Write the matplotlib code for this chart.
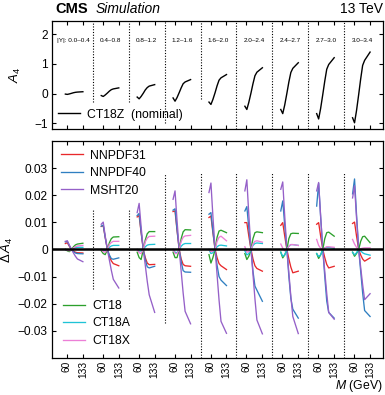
import numpy as np
import matplotlib
matplotlib.use("Agg")
import matplotlib.pyplot as plt
from matplotlib.lines import Line2D

plt.rcParams["font.family"] = ["Liberation Sans", "DejaVu Sans"]
plt.rcParams["mathtext.fontset"] = "custom"
plt.rcParams["mathtext.rm"] = "Liberation Sans"
plt.rcParams["mathtext.it"] = "Liberation Sans:italic"

# ── data ────────────────────────────────────────────────────────────────
Y_BINS = ["0.0–0.4", "0.4–0.8", "0.8–1.2", "1.2–1.6", "1.6–2.0",
          "2.0–2.4", "2.4–2.7", "2.7–3.0", "3.0–3.4"]
MASS = [53, 62, 71, 81, 90, 99, 108, 133]          # GeV
MASS_TICKS = [60, 133]

# A4 for CT18Z (nominal), one row per |y| bin
A4_CT18Z = [
    [-0.02, -0.03, -0.015, 0.006, 0.026, 0.040, 0.048, 0.06],
    [-0.07, -0.10, -0.05, 0.016, 0.08, 0.130, 0.155, 0.19],
    [-0.12, -0.18, -0.10, 0.01, 0.12, 0.20, 0.25, 0.30],
    [-0.15, -0.26, -0.14, 0.03, 0.19, 0.33, 0.39, 0.47],
    [-0.29, -0.37, -0.20, 0.03, 0.26, 0.45, 0.53, 0.64],
    [-0.43, -0.54, -0.30, 0.02, 0.33, 0.60, 0.72, 0.87],
    [-0.54, -0.68, -0.39, 0.01, 0.39, 0.71, 0.85, 1.04],
    [-0.68, -0.86, -0.51, -0.03, 0.42, 0.82, 0.98, 1.21],
    [-0.82, -0.99, -0.58, -0.03, 0.49, 0.95, 1.12, 1.40],
]

# delta A4 w.r.t. CT18Z
D_NNPDF31 = [
    [0.0022, 0.0025, 0.0012, 0.0, -0.0006, -0.0010, -0.0012, -0.0013],
    [0.0085, 0.0088, 0.0044, 0.0, -0.0025, -0.0042, -0.0052, -0.0060],
    [0.0120, 0.0125, 0.0062, 0.0, -0.0030, -0.0050, -0.0056, -0.0055],
    [0.0140, 0.0142, 0.0071, 0.0, -0.0035, -0.0055, -0.0060, -0.0062],
    [0.0118, 0.0123, 0.0062, 0.0, -0.0030, -0.0052, -0.0060, -0.0074],
    [0.0099, 0.0099, 0.0050, 0.0, -0.0035, -0.0060, -0.0070, -0.0080],
    [0.0089, 0.0099, 0.0050, 0.0, -0.0035, -0.0065, -0.0086, -0.0080],
    [0.0093, 0.0099, 0.0050, 0.0, -0.0030, -0.0055, -0.0068, -0.0062],
    [0.0096, 0.0101, 0.0050, 0.0, -0.0020, -0.0035, -0.0043, -0.0031],
]
D_NNPDF40 = [
    [0.0028, 0.0030, 0.0015, 0.0, -0.0008, -0.0013, -0.0015, -0.0016],
    [0.0086, 0.0090, 0.0045, 0.0, -0.0020, -0.0034, -0.0036, -0.0031],
    [0.0125, 0.0133, 0.0066, 0.0, -0.0038, -0.0064, -0.0068, -0.0062],
    [0.0145, 0.0150, 0.0075, 0.0, -0.0045, -0.0078, -0.0083, -0.0084],
    [0.0130, 0.0136, 0.0068, 0.0, -0.0058, -0.0100, -0.0113, -0.0133],
    [0.0142, 0.0158, 0.0079, 0.0, -0.0080, -0.0135, -0.0150, -0.0191],
    [0.0142, 0.0179, 0.0090, 0.0, -0.0100, -0.0180, -0.0220, -0.0253],
    [0.0160, 0.0244, 0.0122, 0.0, -0.0100, -0.0190, -0.0232, -0.0253],
    [0.0205, 0.0260, 0.0130, 0.0, -0.0080, -0.0160, -0.0225, -0.0247],
]
D_MSHT20 = [
    [0.0030, 0.0032, 0.0016, 0.0, -0.0013, -0.0025, -0.0035, -0.0045],
    [0.0093, 0.0101, 0.0050, 0.0, -0.0039, -0.0077, -0.0110, -0.0142],
    [0.0136, 0.0170, 0.0085, 0.0, -0.0058, -0.0117, -0.0167, -0.0232],
    [0.0185, 0.0216, 0.0108, 0.0, -0.0080, -0.0160, -0.0228, -0.0274],
    [0.0210, 0.0245, 0.0122, 0.0, -0.0093, -0.0186, -0.0265, -0.0309],
    [0.0216, 0.0257, 0.0128, 0.0, -0.0091, -0.0182, -0.0260, -0.0311],
    [0.0222, 0.0249, 0.0124, 0.0, -0.0086, -0.0173, -0.0247, -0.0310],
    [0.0216, 0.0247, 0.0124, 0.0, -0.0081, -0.0162, -0.0232, -0.0257],
    [0.0190, 0.0235, 0.0118, 0.0, -0.0065, -0.0130, -0.0185, -0.0163],
]
D_CT18 = [
    [0.0000, -0.0005, -0.0008, 0.0, 0.0010, 0.0017, 0.0020, 0.0023],
    [-0.0005, -0.0015, -0.0019, 0.0, 0.0025, 0.0040, 0.0046, 0.0047],
    [-0.0010, -0.0030, -0.0037, 0.0, 0.0035, 0.0058, 0.0066, 0.0066],
    [-0.0010, -0.0030, -0.0030, 0.0, 0.0040, 0.0065, 0.0073, 0.0072],
    [-0.0019, -0.0050, -0.0030, 0.0, 0.0045, 0.0068, 0.0071, 0.0062],
    [-0.0015, -0.0037, -0.0025, 0.0, 0.0040, 0.0062, 0.0065, 0.0062],
    [-0.0010, -0.0031, -0.0020, 0.0, 0.0040, 0.0058, 0.0060, 0.0059],
    [-0.0015, -0.0033, -0.0020, 0.0, 0.0040, 0.0062, 0.0064, 0.0049],
    [-0.0010, -0.0025, -0.0015, 0.0, 0.0030, 0.0047, 0.0049, 0.0025],
]
D_CT18A = [
    [0.0000, -0.0002, -0.0003, 0.0, 0.0004, 0.0007, 0.0008, 0.0008],
    [0.0000, -0.0003, -0.0004, 0.0, 0.0008, 0.0013, 0.0015, 0.0015],
    [0.0000, -0.0005, -0.0006, 0.0, 0.0010, 0.0016, 0.0018, 0.0019],
    [0.0000, -0.0010, -0.0012, 0.0, 0.0012, 0.0019, 0.0022, 0.0022],
    [0.0000, -0.0015, -0.0012, 0.0, 0.0010, 0.0015, 0.0016, 0.0013],
    [-0.0005, -0.0020, -0.0015, 0.0, 0.0015, 0.0022, 0.0024, 0.0022],
    [-0.0010, -0.0025, -0.0020, 0.0, 0.0012, 0.0018, 0.0018, 0.0015],
    [-0.0015, -0.0026, -0.0020, 0.0, 0.0006, 0.0008, 0.0008, 0.0004],
    [-0.0010, -0.0020, -0.0012, 0.0, -0.0005, -0.0012, -0.0016, -0.0021],
]
D_CT18X = [
    [0.0000, -0.0003, -0.0005, 0.0, 0.0006, 0.0010, 0.0013, 0.0015],
    [0.0000, -0.0008, -0.0010, 0.0, 0.0018, 0.0026, 0.0030, 0.0030],
    [0.0000, -0.0012, -0.0015, 0.0, 0.0028, 0.0042, 0.0048, 0.0049],
    [0.0000, -0.0015, -0.0015, 0.0, 0.0030, 0.0045, 0.0050, 0.0052],
    [0.0000, -0.0008, -0.0006, 0.0, 0.0030, 0.0045, 0.0049, 0.0032],
    [0.0010, -0.0010, -0.0008, 0.0, 0.0020, 0.0030, 0.0032, 0.0027],
    [0.0020, 0.0005, -0.0005, 0.0, 0.0012, 0.0018, 0.0018, 0.0015],
    [0.0037, 0.0015, 0.0005, 0.0, 0.0006, 0.0010, 0.0010, 0.0008],
    [0.0037, 0.0020, 0.0008, 0.0, 0.0003, 0.0005, 0.0006, 0.0006],
]

# dotted separators: (lower, upper) extent in each panel
SEP_TOP = [(-0.3, 2.45), (-0.3, 2.45), (-1.0, 2.45), (-0.2, 2.45),
           (-1.2, 2.45), (-1.2, 2.45), (-1.2, 2.45), (-1.2, 2.45)]
SEP_BOT = [(-0.0144, 0.0148), (-0.0144, 0.0148), (-0.027, 0.0278),
           (-0.04, 0.0285), (-0.04, 0.0285), (-0.04, 0.0285),
           (-0.04, 0.0285), (-0.04, 0.0285)]

BIN_W = 164          # horizontal offset between |y| bins, in GeV units
SEP_AT = 178.5

PDFS = [
    ("NNPDF31", D_NNPDF31, "#e8282b"),
    ("NNPDF40", D_NNPDF40, "#2f7fc1"),
    ("MSHT20",  D_MSHT20,  "#9560c8"),
    ("CT18",    D_CT18,    "#2ca02c"),
    ("CT18A",   D_CT18A,   "#1fc3d6"),
    ("CT18X",   D_CT18X,   "#ec7fd6"),
]


def shifted(i, m):
    return np.asarray(m, dtype=float) + i * BIN_W


def style_axis(ax):
    ax.tick_params(direction="in", top=True, right=True, length=3,
                   width=0.8)
    ax.tick_params(axis="y", labelsize=8.6, pad=3)
    ax.tick_params(axis="x", labelsize=7.3, pad=2)
    for s in ax.spines.values():
        s.set_linewidth(0.9)
    ax.set_xlim(-8, 8 * BIN_W + 192)
    ticks = [shifted(i, MASS_TICKS) for i in range(len(Y_BINS))]
    ax.set_xticks(np.concatenate(ticks))


fig = plt.figure(figsize=(3.85, 3.95), dpi=100)
ax_top = fig.add_axes([0.1351, 0.6734, 0.8597, 0.2734])
ax_bot = fig.add_axes([0.1351, 0.0937, 0.8597, 0.5494])

# ── top panel: A4 ──────────────────────────────────────────────────────
for i, vals in enumerate(A4_CT18Z):
    ax_top.plot(shifted(i, MASS), vals, color="black", lw=1.0)
    label = ("|Y|: " if i == 0 else "") + Y_BINS[i]
    ax_top.text(i * BIN_W + SEP_AT - BIN_W / 2 - (8 if i == 0 else 0), 1.78,
                label, ha="center", va="center", fontsize=4.6)
for i, (lo, hi) in enumerate(SEP_TOP):
    ax_top.vlines(i * BIN_W + SEP_AT, lo, hi, colors="black",
                  linestyles=(0, (1, 1.5)), lw=0.8)
style_axis(ax_top)
ax_top.set_ylim(-1.2, 2.45)
ax_top.set_yticks([-1, 0, 1, 2])
ax_top.set_yticklabels(["−1", "0", "1", "2"])
ax_top.set_xticklabels([])
ax_top.set_ylabel(r"$A_4$", fontsize=9.5, labelpad=8)
ax_top.legend(handles=[Line2D([], [], color="black", lw=1.0,
                              label="CT18Z  (nominal)")],
              loc="lower left", frameon=False, fontsize=8.8,
              handlelength=1.8, handletextpad=0.6, borderaxespad=0.1,
              bbox_to_anchor=(0.0, 0.02))

# ── bottom panel: delta A4 ─────────────────────────────────────────────
handles = []
for name, data, col in PDFS:
    for i, vals in enumerate(data):
        ax_bot.plot(shifted(i, MASS), vals, color=col, lw=0.95)
    handles.append(Line2D([], [], color=col, lw=0.95, label=name))
ax_bot.axhline(0, color="black", lw=1.8, zorder=5)
for i, (lo, hi) in enumerate(SEP_BOT):
    ax_bot.vlines(i * BIN_W + SEP_AT, lo, hi, colors="black",
                  linestyles=(0, (1, 1.5)), lw=0.8)
style_axis(ax_bot)
ax_bot.set_ylim(-0.04, 0.04)
ax_bot.set_yticks([-0.03, -0.02, -0.01, 0, 0.01, 0.02, 0.03])
ax_bot.set_yticklabels(["−0.03", "−0.02", "−0.01", "0",
                        "0.01", "0.02", "0.03"])
ax_bot.set_xticklabels([str(t) for _ in Y_BINS for t in MASS_TICKS],
                       rotation=90)
ax_bot.set_ylabel(r"$\Delta\,A_4$", fontsize=9.5, labelpad=2)
ax_bot.set_xlabel(r"$M$ (GeV)", fontsize=8.8, loc="right", labelpad=0)

leg_kw = dict(frameon=False, fontsize=8.8, handlelength=1.8,
              handletextpad=0.6, labelspacing=0.45)
leg1 = ax_bot.legend(handles=handles[:3], loc="upper left",
                     borderaxespad=0.3, **leg_kw)
ax_bot.add_artist(leg1)
ax_bot.legend(handles=handles[3:], loc="lower left",
              borderaxespad=0.5, **leg_kw)

# ── header ─────────────────────────────────────────────────────────────
fig.text(0.143, 0.960, "CMS", fontsize=10.5, fontweight="bold",
         ha="left", va="bottom")
fig.text(0.249, 0.960, "Simulation", fontsize=10, style="italic",
         ha="left", va="bottom")
fig.text(0.995, 0.960, "13 TeV", fontsize=10, ha="right", va="bottom")

fig.savefig("out.png", dpi=100)
